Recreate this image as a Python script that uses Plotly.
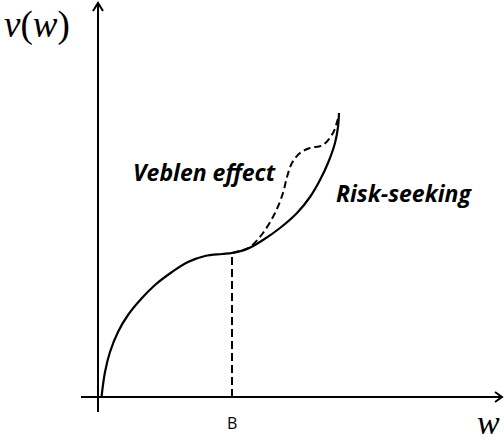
import plotly.graph_objects as go

# Value function v(w): concave up to B, then convex (risk-seeking)
solid_w = [3.5, 7, 12, 20, 30, 44, 57, 74, 90, 107, 124, 134, 149, 165, 182, 199, 212, 222, 230, 237, 240, 241]
solid_v = [0, 25, 45, 65, 82, 99, 112, 125, 135, 141, 143, 144, 148, 157, 169, 184, 200, 217, 234, 254, 270, 284]

# Veblen-effect branch (dashed)
veblen_w = [134, 142, 152, 165, 177, 185, 189, 194, 202, 212, 225, 235, 239, 241]
veblen_v = [144, 146, 150, 164, 184, 204, 220, 234, 244, 249, 252, 264, 275, 282]

B_w = 134
B_v = 144

axis_x_range = [-17, 404]
axis_y_range = [-15, 394]

fig = go.Figure()

# dashed drop line at B
fig.add_trace(go.Scatter(x=[B_w, B_w], y=[0, B_v], mode="lines",
                         line=dict(color="black", width=2, dash="8px,4px"),
                         hoverinfo="skip", showlegend=False))
# Veblen dashed branch
fig.add_trace(go.Scatter(x=veblen_w, y=veblen_v, mode="lines", line_shape="spline",
                         line=dict(color="black", width=2, dash="7px,4px"),
                         hoverinfo="skip", showlegend=False))
# main solid curve
fig.add_trace(go.Scatter(x=solid_w, y=solid_v, mode="lines", line_shape="spline",
                         line=dict(color="black", width=2.2),
                         hoverinfo="skip", showlegend=False))

# axes lines
shapes = [
    dict(type="line", x0=axis_x_range[0], x1=axis_x_range[1], y0=0, y1=0,
         line=dict(color="black", width=2)),
    dict(type="line", x0=0, x1=0, y0=axis_y_range[0], y1=axis_y_range[1],
         line=dict(color="black", width=2)),
    # arrow chevrons
    dict(type="path",
         path=f"M {axis_x_range[1]-7},5 L {axis_x_range[1]},0 L {axis_x_range[1]-7},-5",
         line=dict(color="black", width=2)),
    dict(type="path",
         path=f"M -5,{axis_y_range[1]-8} L 0,{axis_y_range[1]} L 5,{axis_y_range[1]-8}",
         line=dict(color="black", width=2)),
]

annotations = [
    dict(x=-61, y=372, text="<i>v</i>(<i>w</i>)", showarrow=False,
         font=dict(family="Liberation Serif", size=37, color="black")),
    dict(x=390, y=-46, yanchor="bottom", text="<i>w</i>", showarrow=False,
         font=dict(family="Liberation Serif", size=34, color="black")),
    dict(x=B_w, y=-26, text="B", showarrow=False,
         font=dict(family="Open Sans", size=16, color="black")),
    dict(x=106, y=225, text="Veblen effect", showarrow=False,
         font=dict(family="Open Sans", size=23, color="black", weight="bold", style="italic")),
    dict(x=306, y=204, text="Risk-seeking", showarrow=False,
         font=dict(family="Open Sans", size=23, color="black", weight="bold", style="italic")),
]

fig.update_layout(
    width=504, height=443,
    margin=dict(l=0, r=0, t=0, b=0),
    paper_bgcolor="white", plot_bgcolor="white",
    xaxis=dict(range=[-98, 406], visible=False, fixedrange=True),
    yaxis=dict(range=[-46, 397], visible=False, fixedrange=True),
    shapes=shapes, annotations=annotations,
    showlegend=False,
)

fig.write_html("out.html", config={"displayModeBar": False},
               post_script="document.body.style.margin='0';document.body.style.overflow='hidden';")
